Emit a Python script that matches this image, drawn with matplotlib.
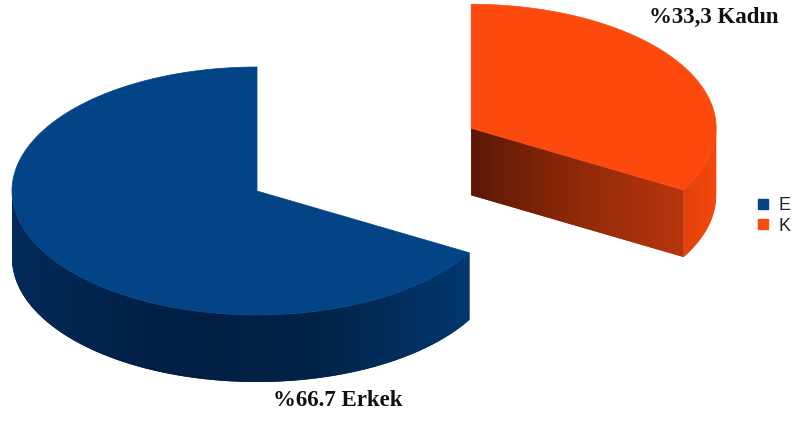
import numpy as np
import matplotlib
matplotlib.use('Agg')
import matplotlib.pyplot as plt
from matplotlib.patches import Polygon
from matplotlib.lines import Line2D
from matplotlib.colors import to_rgb

# ---- data ----
categories = ['E', 'K']
values = [66.7, 33.3]
labels = ['%66.7 Erkek', '%33,3 Kadın']
explode = [0.0, 1.01]

# ---- styles ----
top_colors = ['#034487', '#fc4a0e']
side_stops = [['#022a5a', '#011f44', '#012347', '#02386f'],
              ['#e3420d', '#f5480f']]
cut_stops = [['#01284f', '#02366c'],
             ['#5a1805', '#8f2a09', '#b8360b']]

fig = plt.figure(figsize=(7.95, 4.24), dpi=100)
ax = fig.add_axes([0, 0, 1, 1])
ax.axis('off')

cx0, cy0 = 257, 191     # centre of the pie (top face)
A, B, D = 245, 124, 67  # semi-axes and depth


def interp(stops, t):
    cols = [np.array(to_rgb(c)) for c in stops]
    pos = np.clip(t, 0, 1) * (len(cols) - 1)
    i = min(int(pos), len(cols) - 2)
    f = pos - i
    return cols[i] * (1 - f) + cols[i + 1] * f


def pt(cx, cy, th, r=1.0, dz=0.0):
    return (cx + A * r * np.cos(np.radians(th)), cy - B * r * np.sin(np.radians(th)) + dz)


zo = [1]


def grad_face(poly, stops):
    xs = [p[0] for p in poly]
    ys = [p[1] for p in poly]
    x0, x1, y0, y1 = min(xs), max(xs), min(ys), max(ys)
    patch = Polygon(poly, closed=True, fc=interp(stops, 0.5), ec='none', zorder=zo[0])
    ax.add_patch(patch)
    n = 256
    img = np.array([[interp(stops, k / (n - 1)) for k in range(n)]])
    im = ax.imshow(img, extent=(x0, x1, y1, y0), aspect='auto', interpolation='bilinear',
                   zorder=zo[0] + 0.5)
    im.set_clip_path(patch)
    zo[0] += 1


fracs = np.array(values) / np.sum(values)
start = 90.0
for i, (fr, ex) in enumerate(zip(fracs, explode)):
    t1 = start
    t2 = start + 360.0 * fr
    start = t2
    mid = 0.5 * (t1 + t2)
    cx, cy = pt(cx0, cy0, mid, r=ex)

    # cut faces facing the viewer
    for ray, normal in ((t1, t1 - 90), (t2, t2 + 90)):
        if np.sin(np.radians(normal)) < -1e-6:
            p0 = (cx, cy)
            p1 = pt(cx, cy, ray)
            poly = [p0, p1, (p1[0], p1[1] + D), (p0[0], p0[1] + D)]
            grad_face(poly, cut_stops[i])

    # outer side (front half only)
    for lo in (180.0, 540.0):
        s, e = max(t1, lo), min(t2, lo + 180.0)
        if e > s:
            ths = np.linspace(s, e, 200)
            upper = [pt(cx, cy, t) for t in ths]
            lower = [pt(cx, cy, t, dz=D) for t in ths[::-1]]
            grad_face(upper + lower, side_stops[i])

    # top face
    ths = np.linspace(t1, t2, 300)
    poly = [(cx, cy)] + [pt(cx, cy, t) for t in ths]
    ax.add_patch(Polygon(poly, closed=True, fc=top_colors[i], ec=top_colors[i], lw=0.5,
                         zorder=zo[0]))
    zo[0] += 1

ax.set_xlim(0, 795)
ax.set_ylim(424, 0)

# labels
ax.text(338, 401, labels[0], ha='center', va='center', fontsize=16.5,
        fontweight='bold', family='Liberation Serif', color='#111111', zorder=20)
ax.text(714, 17, labels[1], ha='center', va='center', fontsize=16.5,
        fontweight='bold', family='Liberation Serif', color='#111111', zorder=20)

# legend
handles = [Line2D([], [], ls='none', marker='s', markersize=6.5, color=c) for c in top_colors]
leg = fig.legend(handles, categories, loc='center left',
                 bbox_to_anchor=(758 / 795, 1 - 216 / 424),
                 frameon=False, handlelength=0.55, handletextpad=0.6,
                 labelspacing=0.2, borderpad=0, borderaxespad=0,
                 prop={'family': 'Liberation Sans', 'size': 13})
for t in leg.get_texts():
    t.set_color('#222222')

fig.savefig('out.png', dpi=100, facecolor='white')
